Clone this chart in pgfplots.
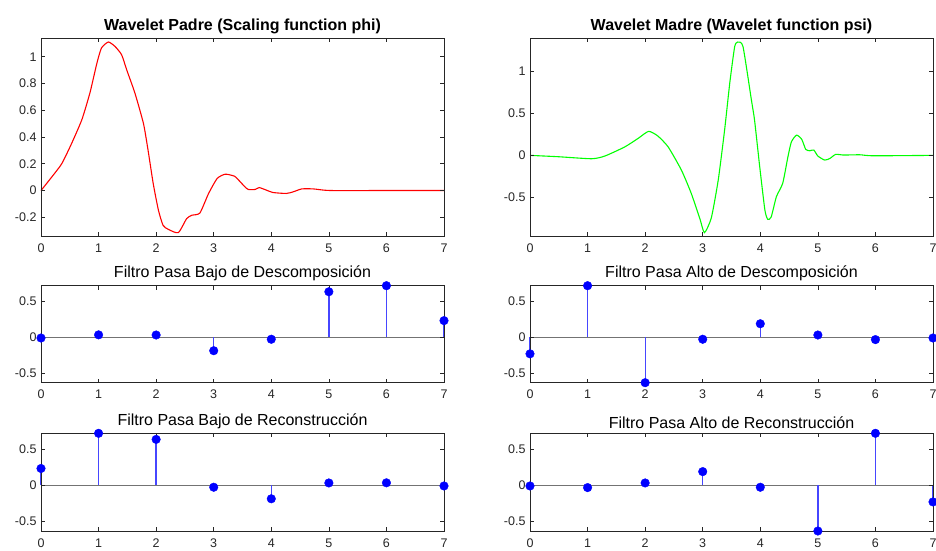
\documentclass[border=0pt]{standalone}
\usepackage{pgfplots}
\pgfplotsset{compat=1.18}
\usepackage{fontspec}
\setmainfont{Liberation Sans}
\definecolor{axgray}{RGB}{38,38,38}
\definecolor{stemblue}{RGB}{70,70,255}
\pgfplotsset{
  myax/.style={
    scale only axis, anchor=south west,
    width=403pt,
    xmin=0, xmax=7, xtick={0,...,7},
    tick align=inside, major tick length=4pt,
    axis line style={axgray, line width=0.7pt},
    tick style={axgray, line width=0.6pt},
    /pgf/number format/assume math mode=true,
    tick label style={font=\fontsize{12.5}{14}\selectfont, text=axgray},
    xticklabel style={yshift=-4pt},
    yticklabel style={xshift=-1pt},
    clip=false,
    axis on top,
  },
  toptitle/.style={title style={font=\bfseries\fontsize{16}{18}\selectfont, yshift=-5pt}},
  filtitle/.style={title style={font=\fontsize{16}{18}\selectfont, yshift=-5pt}},
  mystem/.style={ycomb, color=stemblue, line width=1.3pt, mark=*, mark size=4.3pt, mark options={fill=blue, draw=blue, line width=0.4pt}},
  mybase/.style={draw=black!55, line width=1.4pt, mark=none, forget plot},
}
\begin{document}
\begin{tikzpicture}
\path[use as bounding box] (0pt,0pt) rectangle (936pt,550pt);
% ---------- phi ----------
\begin{axis}[myax, toptitle, at={(41pt,314pt)}, height=198pt,
  ymin=-0.34, ymax=1.14, ytick={-0.2,0,0.2,0.4,0.6,0.8,1},
  title={Wavelet Padre (Scaling function phi)}]
\addplot[red, line width=1.1pt, smooth, tension=0.35] coordinates {
(0,0) (0.185,0.10) (0.36,0.20) (0.53,0.35) (0.71,0.53) (0.85,0.73) (0.97,0.95) (1.05,1.065) (1.17,1.11) (1.285,1.077) (1.40,1.015) (1.49,0.90) (1.63,0.73) (1.78,0.50) (1.86,0.30) (1.95,0.05) (2.04,-0.148) (2.12,-0.26) (2.21,-0.29) (2.385,-0.315) (2.53,-0.21) (2.62,-0.185) (2.76,-0.168) (2.91,-0.023) (3.06,0.09) (3.20,0.122) (3.36,0.107) (3.45,0.07) (3.54,0.028) (3.60,0.008) (3.72,0.008) (3.79,0.022) (3.92,0.002) (4.03,-0.015) (4.26,-0.022) (4.38,-0.01) (4.53,0.012) (4.73,0.012) (5.02,0.0) (6,0) (7,0)};
\end{axis}
% ---------- psi ----------
\begin{axis}[myax, toptitle, at={(530pt,314pt)}, height=198pt,
  ymin=-0.957, ymax=1.393, ytick={-0.5,0,0.5,1},
  title={Wavelet Madre (Wavelet function psi)}]
\addplot[green, line width=1.1pt, smooth, tension=0.35] coordinates {
(0,0) (0.49,-0.016) (1.07,-0.04) (1.30,-0.008) (1.645,0.10) (1.875,0.20) (2.06,0.285) (2.22,0.23) (2.40,0.10) (2.63,-0.175) (2.80,-0.45) (2.95,-0.75) (3.03,-0.917) (3.15,-0.74) (3.27,-0.29) (3.38,0.30) (3.47,0.86) (3.555,1.29) (3.61,1.345) (3.70,1.29) (3.845,0.66) (3.90,0.42) (3.99,-0.135) (4.08,-0.65) (4.13,-0.76) (4.19,-0.73) (4.28,-0.49) (4.39,-0.33) (4.48,-0.017) (4.54,0.16) (4.63,0.24) (4.72,0.19) (4.79,0.07) (4.86,0.055) (4.93,0.063) (5.00,-0.008) (5.12,-0.056) (5.21,-0.036) (5.31,0.012) (5.44,0.004) (5.73,0.007) (5.96,-0.005) (7,0)};
\end{axis}
% ---------- Lo_D ----------
\begin{axis}[myax, filtitle, at={(41pt,167.3pt)}, height=97pt,
  ymin=-0.6309, ymax=0.7148, ytick={-0.5,0,0.5},
  title={Filtro Pasa Bajo de Descomposición}]
\addplot[mybase] coordinates {(0,0) (7,0)};
\addplot[mystem] coordinates {(0,-0.0106) (1,0.0329) (2,0.0308) (3,-0.1870) (4,-0.0280) (5,0.6309) (6,0.7148) (7,0.2304)};
\end{axis}
% ---------- Hi_D ----------
\begin{axis}[myax, filtitle, at={(530pt,167.3pt)}, height=97pt,
  ymin=-0.6309, ymax=0.7148, ytick={-0.5,0,0.5},
  title={Filtro Pasa Alto de Descomposición}]
\addplot[mybase] coordinates {(0,0) (7,0)};
\addplot[mystem] coordinates {(0,-0.2304) (1,0.7148) (2,-0.6309) (3,-0.0280) (4,0.1870) (5,0.0308) (6,-0.0329) (7,-0.0106)};
\end{axis}
% ---------- Lo_R ----------
\begin{axis}[myax, filtitle, at={(41pt,19pt)}, height=97.7pt,
  ymin=-0.6309, ymax=0.7148, ytick={-0.5,0,0.5},
  title={Filtro Pasa Bajo de Reconstrucción}]
\addplot[mybase] coordinates {(0,0) (7,0)};
\addplot[mystem] coordinates {(0,0.2304) (1,0.7148) (2,0.6309) (3,-0.0280) (4,-0.1870) (5,0.0308) (6,0.0329) (7,-0.0106)};
\end{axis}
% ---------- Hi_R ----------
\begin{axis}[myax, filtitle, at={(530pt,19pt)}, height=97.7pt,
  ymin=-0.6309, ymax=0.7148, ytick={-0.5,0,0.5},
  title={Filtro Pasa Alto de Reconstrucción}]
\addplot[mybase] coordinates {(0,0) (7,0)};
\addplot[mystem] coordinates {(0,-0.0106) (1,-0.0329) (2,0.0308) (3,0.1870) (4,-0.0280) (5,-0.6309) (6,0.7148) (7,-0.2304)};
\end{axis}
\end{tikzpicture}
\end{document}
